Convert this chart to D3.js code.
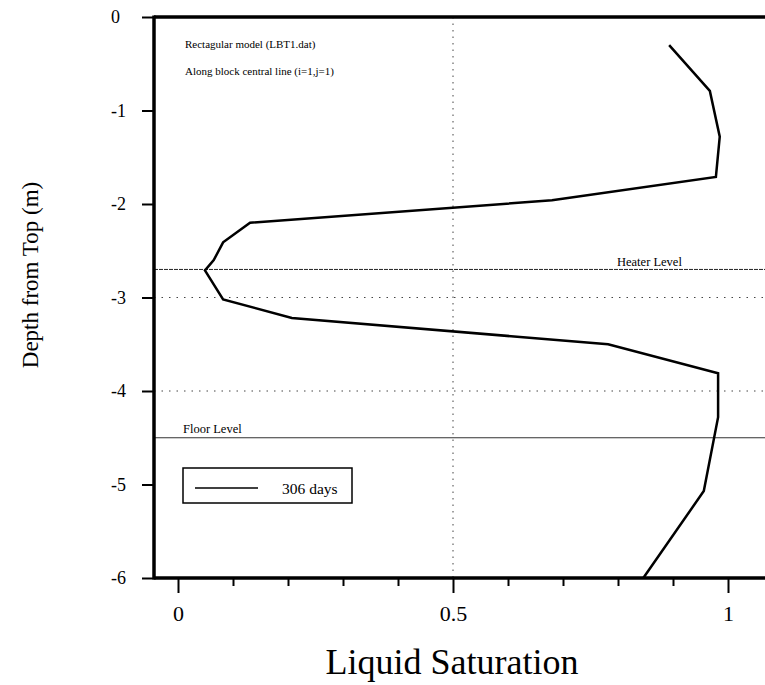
<!DOCTYPE html>
<html><head><meta charset="utf-8">
<script src="https://cdn.jsdelivr.net/npm/d3@7"></script>
<style>
html,body{margin:0;padding:0;background:#fff;}
text{font-family:"Liberation Serif","Times New Roman",serif;fill:#000;}
</style></head>
<body>
<svg id="chart" width="765" height="685"></svg>
<script>
// ---- data ----
const depth = [-0.30, -0.79, -1.28, -1.71, -1.96, -2.20, -2.41, -2.60, -2.71, -3.02, -3.22, -3.50, -3.81, -4.28, -5.07, -6.00];
const saturation = [0.893, 0.967, 0.985, 0.978, 0.68, 0.131, 0.082, 0.065, 0.049, 0.082, 0.207, 0.782, 0.982, 0.982, 0.956, 0.846];
const seriesName = "306 days";
const yTicks = [0, -1, -2, -3, -4, -5, -6];
const xMajorTicks = [0, 0.5, 1];
const xMinorTicks = [0.1, 0.2, 0.3, 0.4, 0.6, 0.7, 0.8, 0.9];
const heaterLevel = -2.7;
const floorLevel = -4.5;
const dottedDepths = [-3, -4];
const dottedSat = [0.5];
const notes = ["Rectagular model (LBT1.dat)", "Along block central line (i=1,j=1)"];

(function () {
// ---- layout ----
const svg = d3.select("#chart");
const pL = 154, pT = 17, pB = 578, pR = 765;
const x = d3.scaleLinear().domain([0, 1]).range([178, 728]);
const y = d3.scaleLinear().domain([0, -6]).range([pT, pB]);

// dotted grid
svg.selectAll(".vgrid").data(dottedSat).enter().append("line")
  .attr("x1", d => x(d)).attr("x2", d => x(d)).attr("y1", pT).attr("y2", pB)
  .attr("stroke", "#444").attr("stroke-width", 1).attr("stroke-dasharray", "1.5,5");
svg.selectAll(".hgrid").data(dottedDepths).enter().append("line")
  .attr("x1", pL).attr("x2", pR).attr("y1", d => y(d)).attr("y2", d => y(d))
  .attr("stroke", "#444").attr("stroke-width", 1).attr("stroke-dasharray", "1.5,6");

// heater & floor level
svg.append("line").attr("x1", pL).attr("x2", pR)
  .attr("y1", y(heaterLevel)).attr("y2", y(heaterLevel))
  .attr("stroke", "#222").attr("stroke-width", 1).attr("stroke-dasharray", "4,1");
svg.append("text").attr("x", 617).attr("y", y(heaterLevel) - 3)
  .attr("font-size", 12.5).text("Heater Level");
svg.append("line").attr("x1", pL).attr("x2", pR)
  .attr("y1", y(floorLevel)).attr("y2", y(floorLevel))
  .attr("stroke", "#333").attr("stroke-width", 1);
svg.append("text").attr("x", 183).attr("y", y(floorLevel) - 5)
  .attr("font-size", 12.5).text("Floor Level");

// series line
const pts = depth.map((d, i) => [saturation[i], d]);
svg.append("path").datum(pts)
  .attr("d", d3.line().x(d => x(d[0])).y(d => y(d[1])))
  .attr("fill", "none").attr("stroke", "#000").attr("stroke-width", 2.5)
  .attr("stroke-linejoin", "miter");

// axes
const yAxis = svg.append("g").attr("transform", `translate(${pL},0)`)
  .call(d3.axisLeft(y).tickValues(yTicks).tickSize(12).tickFormat(d => String(d)));
yAxis.select(".domain").remove();
yAxis.selectAll(".tick line").attr("stroke", "#000").attr("stroke-width", 2);
yAxis.selectAll(".tick text").attr("x", -43).attr("text-anchor", "start")
  .attr("font-size", 18).attr("font-family", "Liberation Serif").attr("fill", "#000");

const xAxis = svg.append("g").attr("transform", `translate(0,${pB})`)
  .call(d3.axisBottom(x).tickValues(xMajorTicks).tickSize(15).tickPadding(12).tickFormat(d => String(d)));
xAxis.select(".domain").remove();
xAxis.selectAll(".tick line").attr("stroke", "#000").attr("stroke-width", 2);
xAxis.selectAll(".tick text").attr("font-size", 22).attr("font-family", "Liberation Serif").attr("fill", "#000");
const xMinor = svg.append("g").attr("transform", `translate(0,${pB})`)
  .call(d3.axisBottom(x).tickValues(xMinorTicks).tickSize(8).tickFormat(""));
xMinor.select(".domain").remove();
xMinor.selectAll(".tick line").attr("stroke", "#000").attr("stroke-width", 2);

// frame
svg.append("line").attr("x1", pL).attr("x2", pL).attr("y1", pT - 1.5).attr("y2", pB + 1.5)
  .attr("stroke", "#000").attr("stroke-width", 3.5);
svg.append("line").attr("x1", pL).attr("x2", pR).attr("y1", pT).attr("y2", pT)
  .attr("stroke", "#000").attr("stroke-width", 3.5);
svg.append("line").attr("x1", pL).attr("x2", pR).attr("y1", pB).attr("y2", pB)
  .attr("stroke", "#000").attr("stroke-width", 3.5);

// notes
svg.selectAll(".note").data(notes).enter().append("text")
  .attr("x", 185).attr("y", (d, i) => 48 + i * 27).attr("font-size", 11).text(d => d);

// legend
svg.append("rect").attr("x", 183).attr("y", 468).attr("width", 169).attr("height", 35)
  .attr("fill", "#fff").attr("stroke", "#000").attr("stroke-width", 1.5);
svg.append("line").attr("x1", 195).attr("x2", 258).attr("y1", 488).attr("y2", 488)
  .attr("stroke", "#000").attr("stroke-width", 1.5);
svg.append("text").attr("x", 282).attr("y", 494).attr("font-size", 15.5).text(seriesName);

// axis titles
svg.append("text").attr("transform", "translate(38,275) rotate(-90)")
  .attr("text-anchor", "middle").attr("font-size", 23).text("Depth from Top (m)");
svg.append("text").attr("x", 452).attr("y", 674).attr("text-anchor", "middle")
  .attr("font-size", 36).text("Liquid Saturation");
})();
</script>
</body></html>
